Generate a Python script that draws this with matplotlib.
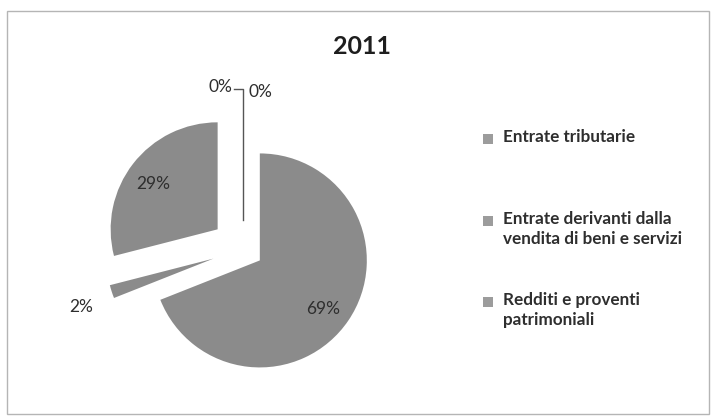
import numpy as np
import matplotlib
matplotlib.use("Agg")
import matplotlib.pyplot as plt
from matplotlib.patches import Rectangle

# ---- data ----
title = "2011"
categories = ["Entrate tributarie",
              "Entrate derivanti dalla\nvendita di beni e servizi",
              "Redditi e proventi\npatrimoniali",
              "Altro 1", "Altro 2"]
values = [69, 2, 29, 0, 0]
pct_labels = ["69%", "2%", "29%", "0%", "0%"]
legend_shown = 3

# ---- style / layout ----
W, H = 711, 418
wedge_color = "#8b8b8b"
legend_color = "#9c9c9c"
text_color = "#2e2e2e"
font = ["Lato", "DejaVu Sans"]
explode_frac = [0.19, 0.29, 0.30, 0.27, 0.27]
center_px = (243, 249)
radius = 107

fig = plt.figure(figsize=(W / 100, H / 100), dpi=100)
ax = fig.add_axes([0, 0, 1, 1])

def P(x, y):
    return (x, H - y)

cx, cy = P(*center_px)
wedges, _ = ax.pie(values, startangle=90, counterclock=False,
                   colors=[wedge_color] * len(values),
                   explode=[e * radius for e in explode_frac],
                   radius=radius, center=(cx, cy),
                   wedgeprops=dict(linewidth=0), normalize=True)
ax.set_xlim(0, W)
ax.set_ylim(0, H)
ax.set_aspect("equal")
ax.axis("off")

# chart border
ax.add_patch(Rectangle(P(7, 414), 702, 403, fill=False, ec="#b5b5b5", lw=1.0))

# title
ax.text(*P(362, 47), title, ha="center", va="center", fontsize=18,
        fontweight="bold", color="#1e1e1e", family=font)

# percentage labels
label_dist = [0.72, 1.30, 0.76]
for i, w in enumerate(wedges[:3]):
    mid = np.deg2rad((w.theta1 + w.theta2) / 2)
    wx, wy = w.center
    r = label_dist[i] * radius
    ax.text(wx + r * np.cos(mid), wy + r * np.sin(mid) - 5, pct_labels[i],
            ha="center", va="center", fontsize=12.5, color=text_color,
            family=font)

# zero slices: leader line + labels
w0 = wedges[3]
zx, zy = w0.center
elbow_y = H - 89
ax.plot([zx, zx, zx - 9], [zy, elbow_y, elbow_y], color="#555555", lw=1.0)
ax.text(zx - 11, elbow_y + 2, pct_labels[3], ha="right", va="center",
        fontsize=12.5, color=text_color, family=font)
ax.text(zx + 5, elbow_y - 3, pct_labels[4], ha="left", va="center",
        fontsize=12.5, color=text_color, family=font)

# legend
legend_y = [139, 221, 302]
for i in range(legend_shown):
    x0, y0 = P(483, legend_y[i] + 5)
    ax.add_patch(Rectangle((x0, y0), 10, 10, color=legend_color, lw=0))
    ax.text(*P(503, legend_y[i] - 10), categories[i], ha="left", va="top",
            fontsize=12.3, fontweight="bold", color=text_color, family=font,
            linespacing=1.3)

fig.savefig("out.png", dpi=100, facecolor="white")
